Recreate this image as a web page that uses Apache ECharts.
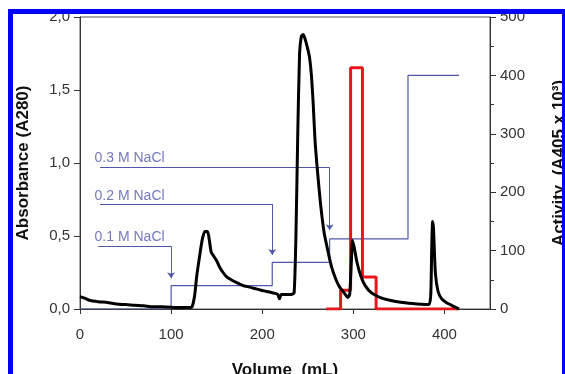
<!DOCTYPE html>
<html>
<head>
<meta charset="utf-8">
<script src="https://cdn.jsdelivr.net/npm/echarts@6/dist/echarts.min.js"></script>
<style>
  html, body { margin: 0; padding: 0; background: #fff; }
  #chart { width: 565px; height: 374px; }
</style>
</head>
<body>
<div id="chart"></div>
<script>
const absorbance = [
  [0, 0.085], [5, 0.075], [10, 0.06], [20, 0.05], [30, 0.045], [40, 0.035], [50, 0.03],
  [60, 0.025], [70, 0.022], [80, 0.015], [90, 0.015], [100, 0.012], [110, 0.01], [120, 0.01],
  [123, 0.015], [126, 0.1], [128, 0.22], [131, 0.35], [134, 0.47], [137, 0.53], [140, 0.53],
  [142, 0.47], [144, 0.39], [147, 0.36], [150, 0.33], [153, 0.29], [157, 0.25], [161, 0.22],
  [166, 0.2], [172, 0.18], [179, 0.16], [186, 0.15], [192, 0.14], [198, 0.13], [205, 0.12],
  [212, 0.11], [217, 0.1], [219, 0.07], [221, 0.1], [232, 0.1], [235, 0.11], [237, 0.5],
  [239, 1.2], [241, 1.75], [243, 1.87], [245, 1.88], [247, 1.85], [250, 1.78], [252, 1.72],
  [254, 1.6], [256, 1.4], [258, 1.15], [261, 0.92], [264, 0.72], [268, 0.52], [272, 0.4],
  [276, 0.29], [281, 0.2], [285, 0.15], [290, 0.11], [294, 0.08], [296, 0.1], [298, 0.35],
  [299, 0.47], [301, 0.42], [304, 0.32], [308, 0.23], [313, 0.16], [320, 0.11], [329, 0.08],
  [340, 0.06], [354, 0.045], [370, 0.035], [383, 0.03], [385, 0.1], [386, 0.4], [387, 0.6],
  [388, 0.55], [390, 0.25], [393, 0.12], [397, 0.07], [402, 0.045], [408, 0.025], [413, 0.01],
  [416, 0.0]
]
const activity = [
  [270, 0], [286, 0], [286, 32], [297, 32], [297, 413], [310, 413], [310, 55], [325, 55],
  [325, 0], [416, 0]
]
const gradient = [
  [0, 0], [100, 0], [100, 40], [211, 40], [211, 80], [274, 80], [274, 120], [360, 120],
  [360, 400], [416, 400]
]
const saltLabels = ['0.1 M NaCl', '0.2 M NaCl', '0.3 M NaCl']
const saltTextPos = [[16, 0.49], [16, 0.77], [16, 1.03]]
const saltStart = [20, 22, 22]
const saltLevel = [0.43, 0.72, 0.97]
const saltStep = [100, 211, 274]
const saltArrowEnd = [0.21, 0.37, 0.54]
const absTicks = [0, 0.5, 1, 1.5, 2]

const font = 'Liberation Sans, Arial, sans-serif'
const blue = '#4f58a8'

const leaders = []
const arrows = []
saltLabels.forEach((s, i) => {
  leaders.push({ coords: [[saltStart[i], saltLevel[i]], [saltStep[i], saltLevel[i]]] })
  arrows.push({ coords: [[saltStep[i], saltLevel[i]], [saltStep[i], saltArrowEnd[i]]] })
})

const chart = echarts.init(document.getElementById('chart'))
chart.setOption({
  animation: false,
  textStyle: { fontFamily: font },
  grid: {
    left: 80, top: 17, right: 75, bottom: 65,
    outerBoundsMode: 'none', containLabel: false,
    show: true, borderColor: '#555', borderWidth: 1
  },
  xAxis: {
    type: 'value', min: 0, max: 450, interval: 100,
    name: 'Volume  (mL)', nameLocation: 'middle', nameGap: 53,
    nameTextStyle: { fontSize: 17, fontWeight: 'bold', color: '#111', fontFamily: font },
    axisLine: { lineStyle: { color: '#333' } },
    axisTick: { length: 5, lineStyle: { color: '#333' } },
    axisLabel: { fontSize: 15, color: '#333', margin: 18, showMaxLabel: false },
    splitLine: { show: false }
  },
  yAxis: [
    {
      type: 'value', min: 0, max: 2, interval: 0.5,
      name: 'Absorbance (A280)', nameLocation: 'middle', nameGap: 48,
      nameTextStyle: { fontSize: 17, fontWeight: 'bold', color: '#111', fontFamily: font },
      axisLine: { show: true, lineStyle: { color: '#333' } },
      axisTick: { show: true, length: 6, lineStyle: { color: '#333' } },
      axisLabel: {
        fontSize: 15, color: '#333', margin: 10,
        formatter: v => absTicks.includes(v) ? v.toFixed(1).replace('.', ',') : ''
      },
      splitLine: { show: false }
    },
    {
      type: 'value', min: 0, max: 500, interval: 100, position: 'right',
      name: 'Activity  (A405 x 10³)', nameLocation: 'middle', nameGap: 61, nameRotate: 90,
      nameTextStyle: { fontSize: 17, fontWeight: 'bold', color: '#111', fontFamily: font },
      axisLine: { show: true, lineStyle: { color: '#333' } },
      axisTick: { show: true, length: 6, lineStyle: { color: '#333' } },
      minorTick: { show: true, splitNumber: 2, length: 4, lineStyle: { color: '#333' } },
      axisLabel: { fontSize: 15, color: '#333', margin: 10 },
      splitLine: { show: false }
    }
  ],
  series: [
    {
      type: 'line', yAxisIndex: 1, data: gradient, showSymbol: false,
      lineStyle: { color: blue, width: 1.2 }, z: 2
    },
    {
      type: 'lines', coordinateSystem: 'cartesian2d', data: leaders,
      symbol: 'none', lineStyle: { color: blue, width: 1, opacity: 1 }, z: 2
    },
    {
      type: 'lines', coordinateSystem: 'cartesian2d', data: arrows,
      symbol: ['none', 'arrow'], symbolSize: 6,
      lineStyle: { color: blue, width: 1, opacity: 1 }, z: 2
    },
    {
      type: 'scatter', symbolSize: 0,
      data: saltTextPos.map((p, i) => ({ value: p, name: saltLabels[i] })),
      label: {
        show: true, position: 'right', distance: 0, formatter: p => p.name,
        color: blue, fontSize: 14, fontFamily: font
      }
    },
    {
      type: 'line', yAxisIndex: 1, data: activity, showSymbol: false,
      lineStyle: { color: '#e8161c', width: 3 }, z: 3
    },
    {
      type: 'line', data: absorbance, showSymbol: false, smooth: 0.2,
      lineStyle: { color: '#000', width: 3 }, z: 4
    }
  ],
  graphic: [
    {
      type: 'rect', z: 100,
      shape: { x: 10.5, y: 11.5, width: 554, height: 400 },
      style: { fill: 'none', stroke: '#0000ff', lineWidth: 5 }
    }
  ]
})
</script>
</body>
</html>
